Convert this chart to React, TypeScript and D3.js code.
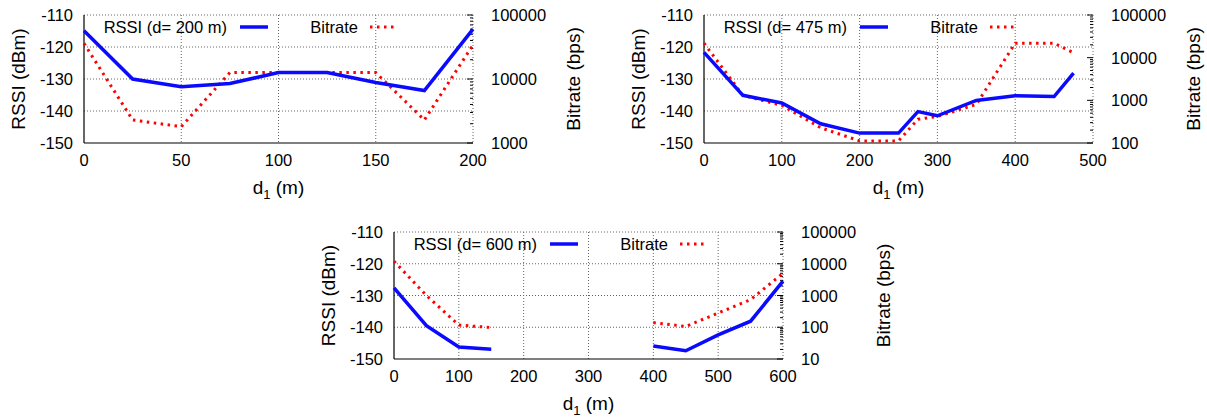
import React from 'react';
import * as d3 from 'd3';

// ---- Data ----
const p1Distance = [0, 25, 50, 75, 100, 125, 150, 175, 200];
const p1Rssi = [-114.9, -130, -132.4, -131.4, -128, -128, -131.1, -133.6, -114.4];
const p1Bitrate = [36000, 2290, 1800, 12600, 12600, 12600, 12600, 2290, 34000];

const p2Distance = [0, 50, 100, 150, 200, 250, 275, 300, 350, 400, 450, 475];
const p2Rssi = [-121.7, -135.1, -137.5, -144, -146.9, -146.9, -140.2, -141.5, -136.7, -135.2, -135.5, -128.2];
const p2Bitrate = [21875, 1310, 760, 228, 112, 112, 360, 420, 800, 21875, 21875, 13000];

const p3Distance = [0, 50, 100, 150, 200, 250, 300, 350, 400, 450, 500, 550, 600];
const p3Rssi: (number | null)[] = [-127.6, -139.5, -146.2, -146.9, null, null, null, null, -145.9, -147.4, -142.4, -138.1, -125.5];
const p3Bitrate: (number | null)[] = [12000, 1000, 117, 98, null, null, null, null, 140, 106, 280, 740, 5000];

const p1Legend = 'RSSI (d= 200 m)';
const p2Legend = 'RSSI (d= 475 m)';
const p3Legend = 'RSSI (d= 600 m)';

const rssiTicks = [-150, -140, -130, -120, -110];

const FONT = '"Liberation Sans", Arial, Helvetica, sans-serif';
const BLUE = '#0a0aff';
const RED = '#ff0000';

type PanelProps = {
  left: number; top: number; width: number; height: number;
  xMax: number; xStep: number; bMin: number;
  distance: number[]; rssi: (number | null)[]; bitrate: (number | null)[];
  legend: string;
};

function Panel(p: PanelProps) {
  const { left, top, width, height } = p;
  const right = left + width, bottom = top + height;
  const x = d3.scaleLinear().domain([0, p.xMax]).range([left, right]);
  const y = d3.scaleLinear().domain([-150, -110]).range([bottom, top]);
  const y2 = d3.scaleLog().domain([p.bMin, 100000]).range([bottom, top]);
  const xTicks = d3.range(0, p.xMax + 0.001, p.xStep);
  const decades: number[] = [];
  for (let v = p.bMin; v <= 100000; v *= 10) decades.push(v);
  const minors: number[] = [];
  decades.slice(0, -1).forEach(d => { for (let k = 2; k <= 9; k++) minors.push(d * k); });

  const rssiLine = d3.line<[number, number | null]>()
    .defined(d => d[1] != null)
    .x(d => x(d[0]))
    .y(d => y(d[1] as number));
  const bitLine = d3.line<[number, number | null]>()
    .defined(d => d[1] != null)
    .x(d => x(d[0]))
    .y(d => y2(d[1] as number));
  const rPts = p.distance.map((d, i) => [d, p.rssi[i]] as [number, number | null]);
  const bPts = p.distance.map((d, i) => [d, p.bitrate[i]] as [number, number | null]);

  const grid = { stroke: '#666', strokeWidth: 1, strokeDasharray: '1,2' };
  const ly = top + 12;
  const fs = 16.5;
  return (
    <g fontFamily={FONT}>
      {xTicks.filter(t => t > 0).map(t => (
        <line key={'gx' + t} x1={x(t)} x2={x(t)} y1={top} y2={bottom} {...grid} />
      ))}
      {rssiTicks.filter(t => t > -150).map(t => (
        <line key={'gy' + t} x1={left} x2={right} y1={y(t)} y2={y(t)} {...grid} />
      ))}
      <line x1={left} x2={left} y1={top} y2={bottom} stroke="#000" strokeWidth={1.2} />
      <line x1={left} x2={right} y1={bottom} y2={bottom} stroke="#000" strokeWidth={1.2} />
      {decades.map(v => (
        <line key={'mj' + v} x1={right - 6} x2={right} y1={y2(v)} y2={y2(v)} stroke="#000" strokeWidth={1} />
      ))}
      {minors.map(v => (
        <line key={'mn' + v} x1={right - 3} x2={right} y1={y2(v)} y2={y2(v)} stroke="#000" strokeWidth={1} />
      ))}
      {rssiTicks.map(t => (
        <text key={'ly' + t} x={left - 11} y={y(t) + 6} textAnchor="end" fontSize={fs}>{t}</text>
      ))}
      {decades.map(v => (
        <text key={'ry' + v} x={right + 18} y={y2(v) + 6} textAnchor="start" fontSize={fs}>{v}</text>
      ))}
      {xTicks.map(t => (
        <text key={'lx' + t} x={x(t)} y={bottom + 23} textAnchor="middle" fontSize={fs}>{t}</text>
      ))}
      <text x={(left + right) / 2} y={bottom + 51} textAnchor="middle" fontSize={19}>
        d<tspan dy={5} fontSize={13}>1</tspan><tspan dy={-5}> (m)</tspan>
      </text>
      <text transform={`translate(${left - 66},${(top + bottom) / 2}) rotate(-90)`} dy="0.35em" textAnchor="middle" fontSize={19}>RSSI (dBm)</text>
      <text transform={`translate(${right + 100},${(top + bottom) / 2}) rotate(-90)`} dy="0.35em" textAnchor="middle" fontSize={19}>Bitrate (bps)</text>
      <path d={bitLine(bPts) || ''} fill="none" stroke={RED} strokeWidth={3} strokeDasharray="2.5,4.5" />
      <path d={rssiLine(rPts) || ''} fill="none" stroke={BLUE} strokeWidth={3.5} strokeLinejoin="miter" />
      <text x={left + 143} y={ly + 6} textAnchor="end" fontSize={fs}>{p.legend}</text>
      <line x1={left + 156} x2={left + 184} y1={ly} y2={ly} stroke={BLUE} strokeWidth={3.5} />
      <text x={left + 274} y={ly + 6} textAnchor="end" fontSize={fs}>Bitrate</text>
      <line x1={left + 286} x2={left + 313} y1={ly} y2={ly} stroke={RED} strokeWidth={3} strokeDasharray="2.5,4.5" />
    </g>
  );
}

export default function App() {
  return (
    <svg width={1207} height={420} style={{ position: 'absolute', left: 0, top: 0, background: '#fff' }}>
      <rect width={1207} height={420} fill="#fff" />
      <Panel left={84} top={15} width={389} height={128} xMax={200} xStep={50} bMin={1000}
        distance={p1Distance} rssi={p1Rssi} bitrate={p1Bitrate} legend={p1Legend} />
      <Panel left={704} top={15} width={389} height={128} xMax={500} xStep={100} bMin={100}
        distance={p2Distance} rssi={p2Rssi} bitrate={p2Bitrate} legend={p2Legend} />
      <Panel left={394} top={232} width={389} height={127} xMax={600} xStep={100} bMin={10}
        distance={p3Distance} rssi={p3Rssi} bitrate={p3Bitrate} legend={p3Legend} />
    </svg>
  );
}
